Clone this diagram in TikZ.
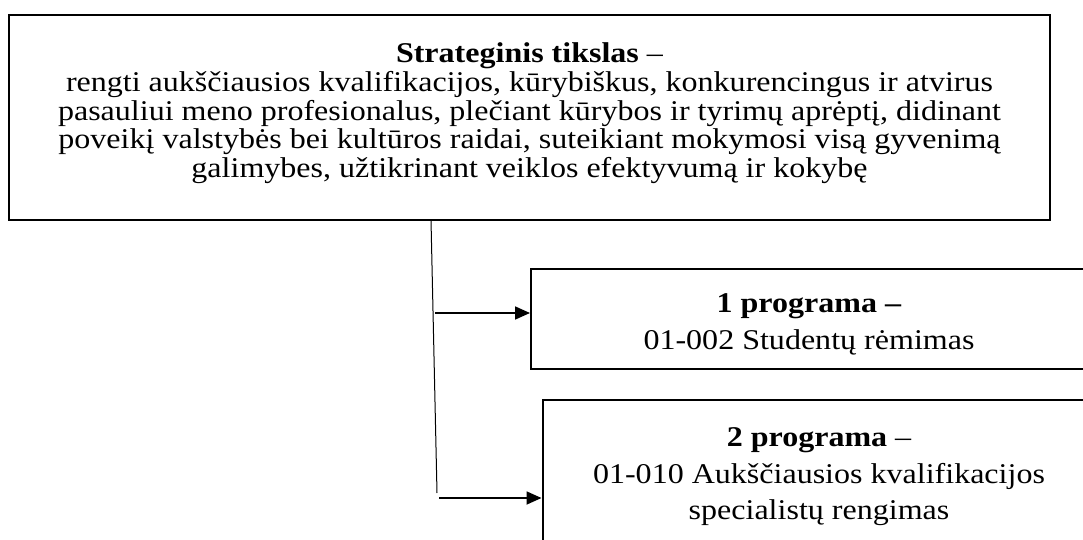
\documentclass[tikz,border=0pt]{standalone}
\usepackage{fontspec}
\setmainfont{Liberation Serif}[FakeStretch=1.12]
\usetikzlibrary{arrows.meta,positioning}

\begin{document}
\begin{tikzpicture}[x=0.5pt,y=-0.5pt,
        tight lines/.style={font={\fontsize{14.3}{14.35}\selectfont\lineskiplimit=-100pt\relax}},
        loose lines/.style={font={\fontsize{14.3}{18.1}\selectfont\lineskiplimit=-100pt\relax}},
        frame box/.style={draw, line width=1pt, inner sep=0pt},
        trunk line/.style={line width=.5pt},
        branch arrow/.style={line width=.9pt, -{Triangle[length=7.5pt,width=6.5pt]}}]
        \useasboundingbox (0,0) rectangle (1083,540);

        % strateginis tikslas
        \node[frame box, minimum width=520.5pt, minimum height=102.5pt] (goal) at (529.5,117.5) {};
        \node[tight lines, align=center] (goaltext) at (529.5,113.3) {\textbf{Strateginis tikslas} --\\
          rengti aukščiausios kvalifikacijos, kūrybiškus, konkurencingus ir atvirus\\
          pasauliui meno profesionalus, plečiant kūrybos ir tyrimų aprėptį, didinant\\
          poveikį valstybės bei kultūros raidai, suteikiant mokymosi visą gyvenimą\\
          galimybes, užtikrinant veiklos efektyvumą ir kokybę};

        % programos
        \node[frame box, minimum width=278pt, minimum height=50pt] (prog1) at (809,319.3) {};
        \node[loose lines, align=center] (prog1text) at (809,324.4)
          {\textbf{1 programa --}\\01-002 Studentų rėmimas};
        \node[frame box, minimum width=276.5pt, minimum height=77pt] (prog2) at (819,477) {};
        \node[loose lines, align=center] (prog2text) at (819,476.8)
          {\textbf{2 programa} --\\01-010 Aukščiausios kvalifikacijos\\specialistų rengimas};

        % jungtys
        \coordinate (trunk top) at (431,220);
        \coordinate (trunk end) at (437,493);
        \coordinate (fork1) at (435,313);
        \coordinate (fork2) at (439,498);
        \draw[trunk line] (trunk top) -- (trunk end);
        \draw[branch arrow] (fork1) -- (fork1 -| prog1.west);
        \draw[branch arrow] (fork2) -- (fork2 -| prog2.west);
\end{tikzpicture}
\end{document}
